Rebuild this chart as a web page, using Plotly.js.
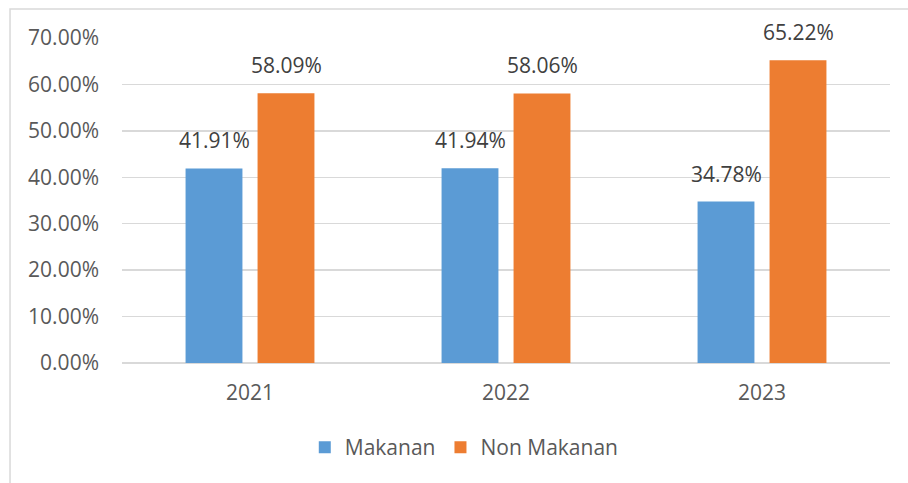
<!DOCTYPE html>
<html>
<head>
<meta charset="utf-8">
<script src="https://cdn.plot.ly/plotly-3.0.1.min.js"></script>
<style>html,body{margin:0;padding:0;background:#fff;}#chart{width:908px;height:483px;}</style>
</head>
<body>
<div id="chart"></div>
<script>
const years = ['2021', '2022', '2023'];
const makanan = [41.91, 41.94, 34.78];
const nonMakanan = [58.09, 58.06, 65.22];
const yTicks = [0, 10, 20, 30, 40, 50, 60, 70];
const yTickLabels = ['0.00%', '10.00%', '20.00%', '30.00%', '40.00%', '50.00%', '60.00%', '70.00%'];

const fontFam = 'Open Sans, Noto Sans, sans-serif';
const fmt = v => v.toFixed(2) + '%';

const traces = [
  {type: 'bar', name: 'Makanan', x: years, y: makanan, marker: {color: '#5b9bd5'}, hoverinfo: 'none'},
  {type: 'bar', name: 'Non Makanan', x: years, y: nonMakanan, marker: {color: '#ed7d31'}, hoverinfo: 'none'}
];

const labelFont = {family: fontFam, size: 21, color: '#404040'};
const annotations = [];
years.forEach((yr, i) => {
  annotations.push({x: i, y: makanan[i], xref: 'x', yref: 'y', text: fmt(makanan[i]), showarrow: false,
                    xshift: -36, yshift: 12, yanchor: 'bottom', font: labelFont});
  annotations.push({x: i, y: nonMakanan[i], xref: 'x', yref: 'y', text: fmt(nonMakanan[i]), showarrow: false,
                    xshift: 36, yshift: 12, yanchor: 'bottom', font: labelFont});
});

const layout = {
  width: 908, height: 483,
  margin: {l: 122, r: 18, t: 38, b: 120},
  paper_bgcolor: '#ffffff', plot_bgcolor: '#ffffff',
  font: {family: fontFam, color: '#595959', size: 21},
  barmode: 'group', bargap: 0.4375, bargroupgap: 0.21,
  showlegend: true,
  legend: {orientation: 'h', x: 0.238, xanchor: 'left', y: -0.26, yanchor: 'middle',
           font: {family: fontFam, size: 21, color: '#595959'}, itemwidth: 30, tracegroupgap: 0},
  xaxis: {type: 'category', range: [-0.5, 2.5], showgrid: false, zeroline: false, showline: false, ticks: '',
          ticklabelstandoff: 15, tickfont: {family: fontFam, size: 21, color: '#595959'}},
  yaxis: {range: [0, 70], tickvals: yTicks, ticktext: yTickLabels, showgrid: true,
          gridcolor: '#d9d9d9', gridwidth: 1.5, zeroline: true, zerolinecolor: '#d9d9d9', zerolinewidth: 1.5,
          showline: false, ticks: '', ticklabelstandoff: 22, fixedrange: true,
          tickfont: {family: fontFam, size: 21, color: '#595959'}},
  annotations: annotations,
  shapes: [{type: 'rect', xref: 'paper', yref: 'paper', x0: -0.1458, x1: 1.2, y0: -0.6, y1: 1.0892,
            line: {color: '#d9d9d9', width: 1.5}, fillcolor: 'rgba(0,0,0,0)', layer: 'below'}]
};

Plotly.newPlot('chart', traces, layout, {displayModeBar: false, staticPlot: true});
</script>
</body>
</html>
